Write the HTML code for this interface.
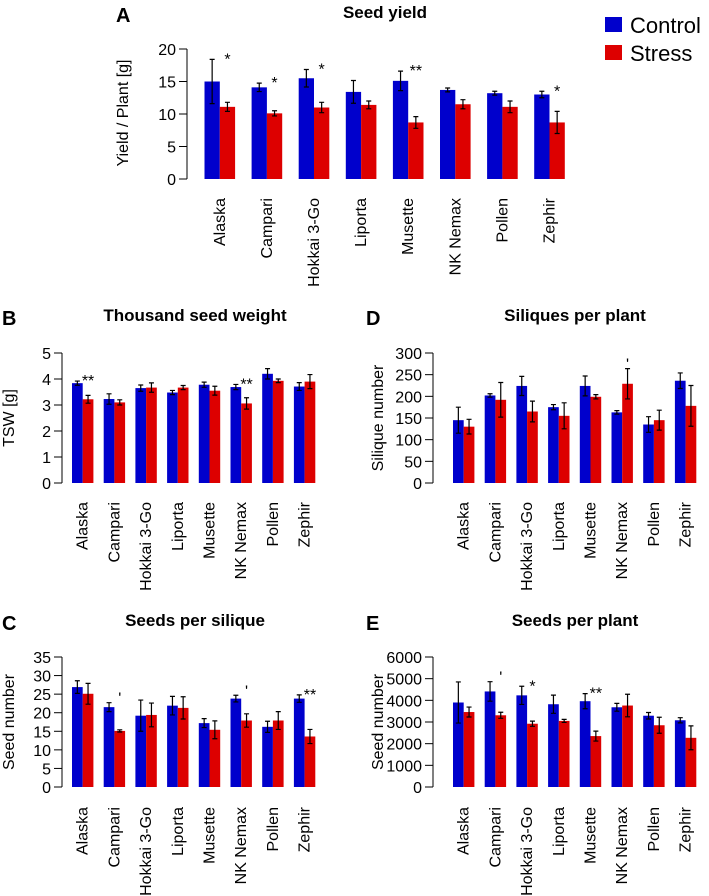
<!DOCTYPE html>
<html><head><meta charset="utf-8"><style>
body{margin:0;background:#fff}
svg{display:block;font-family:"Liberation Sans Narrow","Liberation Sans",Arial,sans-serif}
</style></head><body>
<svg id="fig" width="709" height="896" viewBox="0 0 709 896" xmlns="http://www.w3.org/2000/svg">
<text x="116" y="22" font-size="20" font-weight="bold" font-family="Liberation Sans">A</text>
<text x="2" y="325" font-size="20" font-weight="bold" font-family="Liberation Sans">B</text>
<text x="366" y="325" font-size="20" font-weight="bold" font-family="Liberation Sans">D</text>
<text x="2" y="630" font-size="20" font-weight="bold" font-family="Liberation Sans">C</text>
<text x="366" y="630" font-size="20" font-weight="bold" font-family="Liberation Sans">E</text>
<g>
<rect x="605" y="17" width="17" height="15" fill="#0000cc"/>
<text x="630" y="33" font-size="22" font-family="Liberation Sans">Control</text>
<rect x="605" y="45" width="17" height="15" fill="#dd0000"/>
<text x="630" y="61" font-size="22" font-family="Liberation Sans">Stress</text>
</g>
</svg>
<script>
const categories=["Alaska","Campari","Hokkai 3-Go","Liporta","Musette","NK Nemax","Pollen","Zephir"];
const yieldCtrl=[15.0,14.1,15.5,13.4,15.1,13.7,13.2,13.0];
const yieldCtrlErr=[3.4,0.65,1.35,1.75,1.5,0.3,0.3,0.5];
const yieldStress=[11.1,10.1,11.0,11.4,8.7,11.5,11.1,8.7];
const yieldStressErr=[0.7,0.4,0.8,0.6,0.9,0.7,0.9,1.7];
const yieldSig=["*","*","*","","**","","","*"];
const yieldTicks=[0,5,10,15,20];
const tswCtrl=[3.84,3.23,3.65,3.48,3.78,3.69,4.2,3.71];
const tswCtrlErr=[0.08,0.2,0.12,0.08,0.1,0.1,0.2,0.15];
const tswStress=[3.22,3.1,3.67,3.67,3.55,3.06,3.93,3.9];
const tswStressErr=[0.15,0.1,0.18,0.08,0.17,0.22,0.07,0.27];
const tswSig=["**","","","","","**","",""];
const tswTicks=[0,1,2,3,4,5];
const silCtrl=[145,202,224,175,224,163,135,236];
const silCtrlErr=[30,4,22,6,23,4,18,18];
const silStress=[130,192,165,155,199,229,145,178];
const silStressErr=[17,40,24,30,5,35,23,47];
const silSig=["","","","","","'","",""];
const silTicks=[0,50,100,150,200,250,300];
const spsCtrl=[26.9,21.5,19.2,21.9,17.2,23.8,16.2,23.8];
const spsCtrlErr=[1.7,1.2,4.2,2.5,1.2,0.9,1.5,1.0];
const spsStress=[25.1,15.1,19.4,21.3,15.4,17.9,17.9,13.6];
const spsStressErr=[2.8,0.3,3.2,3.0,2.4,1.8,2.4,1.9];
const spsSig=["","'","","","","'","","**"];
const spsTicks=[0,5,10,15,20,25,30,35];
const sppCtrl=[3900,4410,4230,3820,3960,3680,3290,3080];
const sppCtrlErr=[950,450,420,420,350,180,150,120];
const sppStress=[3460,3310,2920,3050,2350,3760,2850,2270];
const sppStressErr=[230,140,120,70,230,520,370,550];
const sppSig=["","'","*","","**","","",""];
const sppTicks=[0,1000,2000,3000,4000,5000,6000];

const NS="http://www.w3.org/2000/svg";
const svg=document.getElementById('fig');
function mk(tag,attrs,parent,text){const e=document.createElementNS(NS,tag);for(const k in attrs)e.setAttribute(k,attrs[k]);if(text!==undefined)e.textContent=text;parent.appendChild(e);return e;}

function panel(p){
  const g=mk('g',{},svg);
  
  
  const max=p.ticks[p.ticks.length-1];
  const ys=v=>p.y0-(v/max)*(p.y0-p.yTop);
  const xs=i=>p.bar0+i*p.sp;
  const t=mk('text',{x:p.titleX,y:p.titleY,'font-size':17,'font-weight':'bold','text-anchor':'middle'},g,p.title);
  
  
  const ax=mk('line',{x1:p.axisX,x2:p.axisX,y1:p.y0,y2:p.yTop,stroke:'#000','stroke-width':1},g);
  
  
  p.ticks.forEach(v=>{
    const y=ys(v);
    mk('line',{x1:p.axisX-8,x2:p.axisX,y1:y,y2:y,stroke:'#000'},g);
    const tl=mk('text',{x:p.axisX-11,y:y+6,'font-size':16,'text-anchor':'end'},g,String(v));
    
    
  });
  const yt=mk('text',{x:0,y:0,'font-size':16,'text-anchor':'middle',transform:`translate(${p.ytX},${p.ytY}) rotate(-90)`},g,p.ytitle);
  
  
  categories.forEach((c,i)=>{
    const x=xs(i);
    [[p.ctrl,p.ctrlE,'#0000cc',0,'control'],[p.st,p.stE,'#dd0000',p.bw,'stress']].forEach(([vals,errs,col,off,nm])=>{
      const v=vals[i],e=errs[i];
      const r=mk('rect',{x:x+off,y:ys(v),width:p.bw,height:p.y0-ys(v),fill:col},g);
      
      
      const cx=x+off+p.bw/2;
      const eb=mk('path',{d:`M${cx},${ys(v+e)}V${ys(v-e)}M${cx-2.5},${ys(v+e)}H${cx+2.5}M${cx-2.5},${ys(v-e)}H${cx+2.5}`,stroke:'#000','stroke-width':1.2,fill:'none'},g);
      
      
    });
    if(p.sig[i]){
      const top=Math.max(p.ctrl[i]+p.ctrlE[i],p.st[i]+p.stE[i]);
      const s=mk('text',{x:x+p.bw*1.5,y:ys(top)-3+(p.sig[i]==="'"?4:8),'font-size':16,'text-anchor':'middle'},g,p.sig[i]);
      
      
    }
    const lx=x+p.bw+5;
    const l=mk('text',{x:0,y:0,'font-size':16,'text-anchor':'end',transform:`translate(${lx},${p.labTop}) rotate(-90)`},g,c);
    
    
  });
}
panel({name:'seed-yield-chart',title:'Seed yield',titleX:385,titleY:18,axisX:187,y0:179,yTop:49,ticks:yieldTicks,bar0:204.5,sp:47.1,bw:15.3,labTop:198,ytitle:'Yield / Plant [g]',ytX:128,ytY:113,ctrl:yieldCtrl,ctrlE:yieldCtrlErr,st:yieldStress,stE:yieldStressErr,sig:yieldSig});
panel({name:'thousand-seed-weight-chart',title:'Thousand seed weight',titleX:195,titleY:321,axisX:62,y0:483,yTop:353,ticks:tswTicks,bar0:72,sp:31.7,bw:10.7,labTop:502,ytitle:'TSW [g]',ytX:14,ytY:418,ctrl:tswCtrl,ctrlE:tswCtrlErr,st:tswStress,stE:tswStressErr,sig:tswSig});
panel({name:'siliques-per-plant-chart',title:'Siliques per plant',titleX:575,titleY:321,axisX:433,y0:483,yTop:353,ticks:silTicks,bar0:453,sp:31.7,bw:10.7,labTop:502,ytitle:'Silique number',ytX:383,ytY:418,ctrl:silCtrl,ctrlE:silCtrlErr,st:silStress,stE:silStressErr,sig:silSig});
panel({name:'seeds-per-silique-chart',title:'Seeds per silique',titleX:195,titleY:626,axisX:62,y0:787,yTop:657,ticks:spsTicks,bar0:72,sp:31.7,bw:10.7,labTop:807,ytitle:'Seed number',ytX:14,ytY:722,ctrl:spsCtrl,ctrlE:spsCtrlErr,st:spsStress,stE:spsStressErr,sig:spsSig});
panel({name:'seeds-per-plant-chart',title:'Seeds per plant',titleX:575,titleY:626,axisX:433,y0:787,yTop:657,ticks:sppTicks,bar0:453,sp:31.7,bw:10.7,labTop:807,ytitle:'Seed number',ytX:383,ytY:722,ctrl:sppCtrl,ctrlE:sppCtrlErr,st:sppStress,stE:sppStressErr,sig:sppSig});
</script>
</body></html>
